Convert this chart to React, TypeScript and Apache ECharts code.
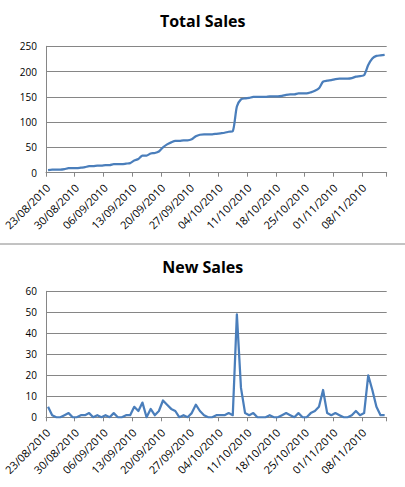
import React, { useEffect, useRef } from "react";
import * as echarts from "echarts";

const START_DATE = [2010, 7, 23]; // 23/08/2010 (month is 0-based)
const DAY_COUNT = 83;

const newSales = [
  5, 1, 0, 0, 1, 2, 0, 0, 1, 1, 2, 0, 1, 0, 1, 0, 2, 0, 0, 1,
  1, 5, 3, 7, 0, 4, 1, 3, 8, 6, 4, 3, 0, 1, 0, 2, 6, 3, 1, 0,
  0, 1, 1, 1, 2, 1, 49, 14, 2, 1, 2, 0, 0, 0, 1, 0, 0, 1, 2, 1,
  0, 2, 0, 0, 2, 3, 5, 13, 2, 1, 2, 1, 0, 0, 1, 3, 1, 2, 20, 13,
  5, 1, 1,
];

const totalSales = [
  5, 6, 6, 6, 7, 9, 9, 9, 10, 11, 13, 13, 14, 14, 15, 15, 17, 17, 17, 18,
  19, 24, 27, 34, 34, 38, 39, 42, 50, 56, 60, 63, 63, 64, 64, 66, 72, 75, 76, 76,
  76, 77, 78, 79, 81, 82, 131, 145, 147, 148, 150, 150, 150, 150, 151, 151, 151, 152, 154, 155,
  155, 157, 157, 157, 159, 162, 167, 180, 182, 183, 185, 186, 186, 186, 187, 190, 191, 193, 213, 226,
  231, 232, 233,
];

const totalTicks = { max: 250, interval: 50 };
const newTicks = { max: 60, interval: 10 };

function makeCategories(): string[] {
  const out: string[] = [];
  for (let i = 0; i < DAY_COUNT; i++) {
    const d = new Date(START_DATE[0], START_DATE[1], START_DATE[2] + i);
    const dd = String(d.getDate()).padStart(2, "0");
    const mm = String(d.getMonth() + 1).padStart(2, "0");
    out.push(`${dd}/${mm}/${d.getFullYear()}`);
  }
  return out;
}

const categories = makeCategories();

const GRAY = "#868686";
const BLUE = "#4A7EBB";
const FONT = "Open Sans";

export default function App() {
  const ref = useRef<HTMLDivElement>(null);

  useEffect(() => {
    const chart = echarts.init(ref.current!, null, { renderer: "svg" });

    const xAxisBase = (gridIndex: number) => ({
      type: "category" as const,
      gridIndex,
      data: categories,
      boundaryGap: true,
      axisLine: { show: true, lineStyle: { color: GRAY, width: 1 } },
      axisTick: { show: true, interval: 6, length: 4, lineStyle: { color: GRAY } },
      axisLabel: {
        interval: 6,
        rotate: 45,
        fontSize: 11,
        fontFamily: FONT,
        color: "#000",
        margin: 13,
      },
      splitLine: { show: false },
    });

    const yAxisBase = (gridIndex: number, t: { max: number; interval: number }) => ({
      type: "value" as const,
      gridIndex,
      min: 0,
      max: t.max,
      interval: t.interval,
      axisLine: { show: true, lineStyle: { color: GRAY, width: 1 } },
      axisTick: { show: false },
      axisLabel: { fontSize: 10, fontFamily: FONT, color: "#000", margin: 9 },
      splitLine: { show: true, lineStyle: { color: GRAY, width: 1 } },
    });

    chart.setOption({
      animation: false,
      backgroundColor: "#fff",
      grid: [
        { left: 46, top: 46.3, width: 340.7, height: 126.4, containLabel: false },
        { left: 46, top: 291.3, width: 340.7, height: 126, containLabel: false },
      ],
      xAxis: [xAxisBase(0), xAxisBase(1)],
      yAxis: [yAxisBase(0, totalTicks), yAxisBase(1, newTicks)],
      series: [
        {
          name: "Total Sales",
          type: "line",
          xAxisIndex: 0,
          yAxisIndex: 0,
          data: totalSales,
          showSymbol: false,
          smooth: 0.25,
          lineStyle: { color: BLUE, width: 2.25 },
        },
        {
          name: "New Sales",
          type: "line",
          xAxisIndex: 1,
          yAxisIndex: 1,
          data: newSales,
          showSymbol: false,
          smooth: false,
          lineStyle: { color: BLUE, width: 2.25, join: "round" },
        },
      ],
      graphic: [
        {
          type: "text",
          x: 202.7,
          y: 20.5,
          style: {
            text: "Total Sales",
            font: `bold 16px "${FONT}"`,
            fill: "#000",
            textAlign: "center",
            textVerticalAlign: "middle",
          },
        },
        {
          type: "text",
          x: 202.7,
          y: 267,
          style: {
            text: "New Sales",
            font: `bold 16px "${FONT}"`,
            fill: "#000",
            textAlign: "center",
            textVerticalAlign: "middle",
          },
        },
        {
          type: "line",
          shape: { x1: 0, y1: 244, x2: 405, y2: 244 },
          style: { stroke: GRAY, lineWidth: 1 },
        },
      ],
    });

    return () => chart.dispose();
  }, []);

  return (
    <div
      ref={ref}
      style={{ position: "fixed", left: 0, top: 0, width: 405, height: 487 }}
    />
  );
}
